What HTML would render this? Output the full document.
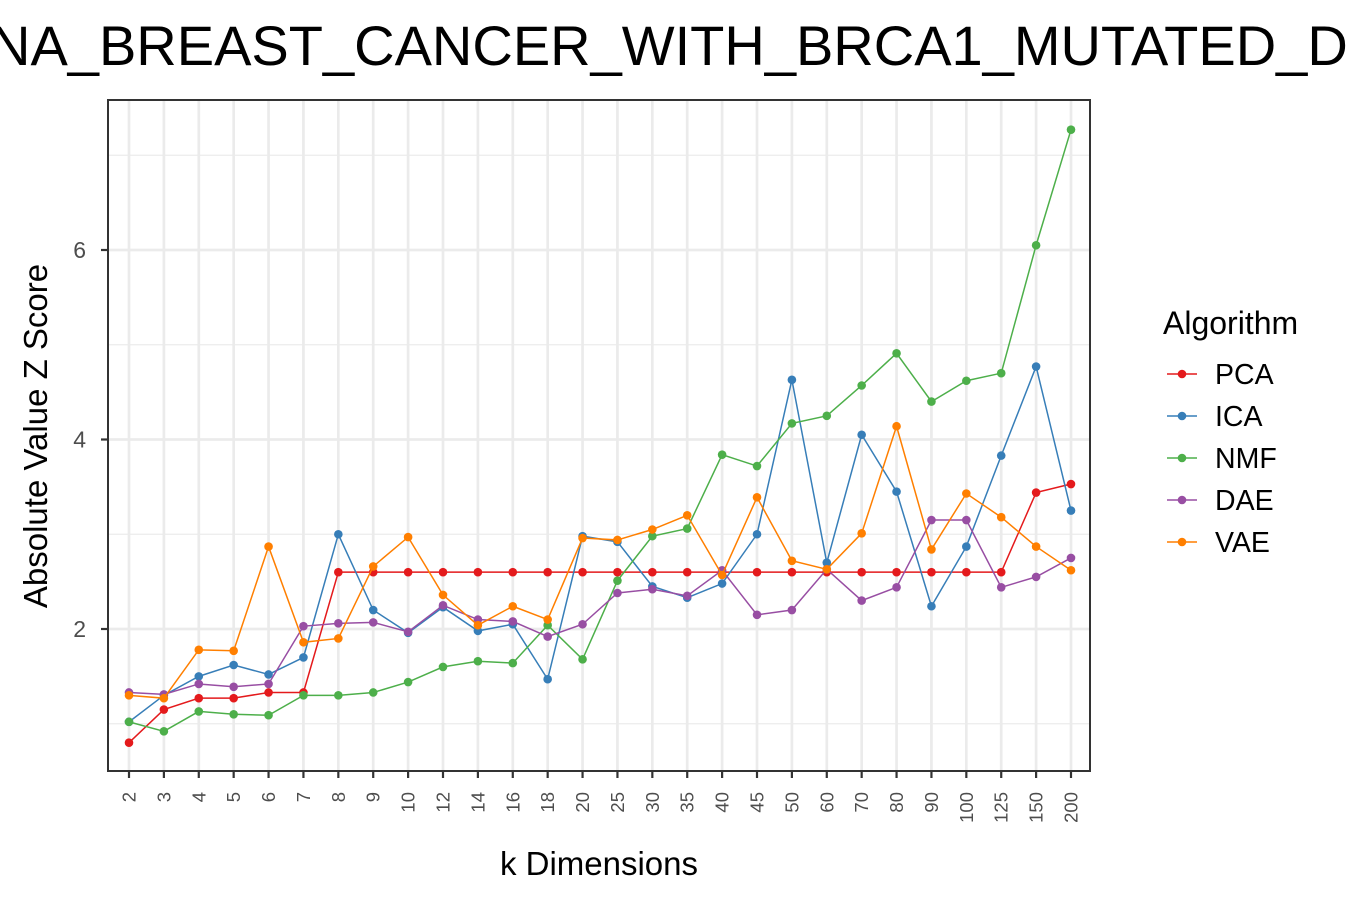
<!DOCTYPE html>
<html><head><meta charset="utf-8"><style>
html,body{margin:0;padding:0;background:#fff;width:1350px;height:900px;overflow:hidden}
svg{display:block;font-family:"Liberation Sans",Arial,sans-serif}
</style></head><body>
<svg id="chart" width="1350" height="900" viewBox="0 0 1350 900">
<text x="-10" y="65" font-size="56" fill="#000">NA_BREAST_CANCER_WITH_BRCA1_MUTATED_DNA</text>
<g id="grid"></g><g id="series"></g><g id="axes"></g>
<text x="0" y="0" transform="translate(47,436) rotate(-90)" text-anchor="middle" font-size="33" fill="#000">Absolute Value Z Score</text>
<text x="599" y="875" text-anchor="middle" font-size="33" fill="#000">k Dimensions</text>
<g id="legend"></g>
</svg>
<script>
const categories=["2","3","4","5","6","7","8","9","10","12","14","16","18","20","25","30","35","40","45","50","60","70","80","90","100","125","150","200"];
const seriesNames=["PCA","ICA","NMF","DAE","VAE"];
const seriesColors=["#e41a1c","#377eb8","#4daf4a","#984ea3","#ff7f00"];
const pcaVals=[0.8,1.15,1.27,1.27,1.33,1.33,2.6,2.6,2.6,2.6,2.6,2.6,2.6,2.6,2.6,2.6,2.6,2.6,2.6,2.6,2.6,2.6,2.6,2.6,2.6,2.6,3.44,3.53];
const icaVals=[1.02,1.3,1.5,1.62,1.52,1.7,3.0,2.2,1.96,2.23,1.98,2.05,1.47,2.98,2.92,2.45,2.33,2.48,3.0,4.63,2.7,4.05,3.45,2.24,2.87,3.83,4.77,3.25];
const nmfVals=[1.02,0.92,1.13,1.1,1.09,1.3,1.3,1.33,1.44,1.6,1.66,1.64,2.04,1.68,2.51,2.98,3.06,3.84,3.72,4.17,4.25,4.57,4.91,4.4,4.62,4.7,6.05,7.27];
const daeVals=[1.33,1.31,1.42,1.39,1.42,2.03,2.06,2.07,1.97,2.25,2.1,2.08,1.92,2.05,2.38,2.42,2.35,2.62,2.15,2.2,2.63,2.3,2.44,3.15,3.15,2.44,2.55,2.75];
const vaeVals=[1.3,1.27,1.78,1.77,2.87,1.86,1.9,2.66,2.97,2.36,2.04,2.24,2.1,2.96,2.94,3.05,3.2,2.57,3.39,2.72,2.63,3.01,4.14,2.84,3.43,3.18,2.87,2.62];
const yTicks=[2,4,6];
const yMinor=[1,3,5,7];
const allVals=[pcaVals,icaVals,nmfVals,daeVals,vaeVals];
const NS="http://www.w3.org/2000/svg";
const L=108,R=1090,T=100,B=771;
const n=categories.length;
function xS(i){return 129+i*(1071-129)/(n-1);}
function yS(v){return 629-(v-2)*94.75;}
function mk(tag,attrs,parent){const e=document.createElementNS(NS,tag);for(const k in attrs)e.setAttribute(k,attrs[k]);parent.appendChild(e);return e;}
const grid=document.getElementById('grid'),ser=document.getElementById('series'),axes=document.getElementById('axes'),leg=document.getElementById('legend');
yMinor.forEach(v=>{const l=mk('line',{x1:L,x2:R,y1:yS(v),y2:yS(v),stroke:'#ebebeb','stroke-width':1.3},grid);

});
yTicks.forEach(v=>{const l=mk('line',{x1:L,x2:R,y1:yS(v),y2:yS(v),stroke:'#ebebeb','stroke-width':2.7},grid);

});
categories.forEach((c,i)=>{const l=mk('line',{x1:xS(i),x2:xS(i),y1:T,y2:B,stroke:'#ebebeb','stroke-width':2.7},grid);

});
allVals.forEach((vals,s)=>{
 const g=mk('g',{},ser);
 
 
 const pts=vals.map((v,i)=>xS(i)+','+yS(v)).join(' ');
 const pl=mk('polyline',{points:pts,fill:'none',stroke:seriesColors[s],'stroke-width':1.5},g);
 
 
 vals.forEach((v,i)=>{const c=mk('circle',{cx:xS(i),cy:yS(v),r:4.3,fill:seriesColors[s]},g);
 
 });
});
const fr=mk('rect',{x:L,y:T,width:R-L,height:B-T,fill:'none',stroke:'#333','stroke-width':2},axes);


yTicks.forEach(v=>{mk('line',{x1:L-7,x2:L,y1:yS(v),y2:yS(v),stroke:'#333','stroke-width':2.2},axes);
 const t=mk('text',{x:L-22,y:yS(v)+8,'text-anchor':'end','font-size':23,fill:'#4d4d4d'},axes);t.textContent=v;
 
 });
categories.forEach((c,i)=>{mk('line',{x1:xS(i),x2:xS(i),y1:B,y2:B+7,stroke:'#333','stroke-width':2.2},axes);
 const t=mk('text',{x:0,y:0,transform:`translate(${xS(i)+6.5},${B+21}) rotate(-90)`,'text-anchor':'end','font-size':18.5,fill:'#4d4d4d'},axes);t.textContent=c;
 
 });
const lt=mk('text',{x:1163,y:334,'font-size':32,fill:'#000'},leg);lt.textContent='Algorithm';


seriesNames.forEach((nm,s)=>{const y=374+s*42;const g=mk('g',{},leg);
 
 
 mk('line',{x1:1167,x2:1197,y1:y,y2:y,stroke:seriesColors[s],'stroke-width':1.5},g);
 mk('circle',{cx:1182,cy:y,r:4.3,fill:seriesColors[s]},g);
 const t=mk('text',{x:1215,y:y+10,'font-size':28.5,fill:'#000'},g);t.textContent=nm;});
</script>
</body></html>
